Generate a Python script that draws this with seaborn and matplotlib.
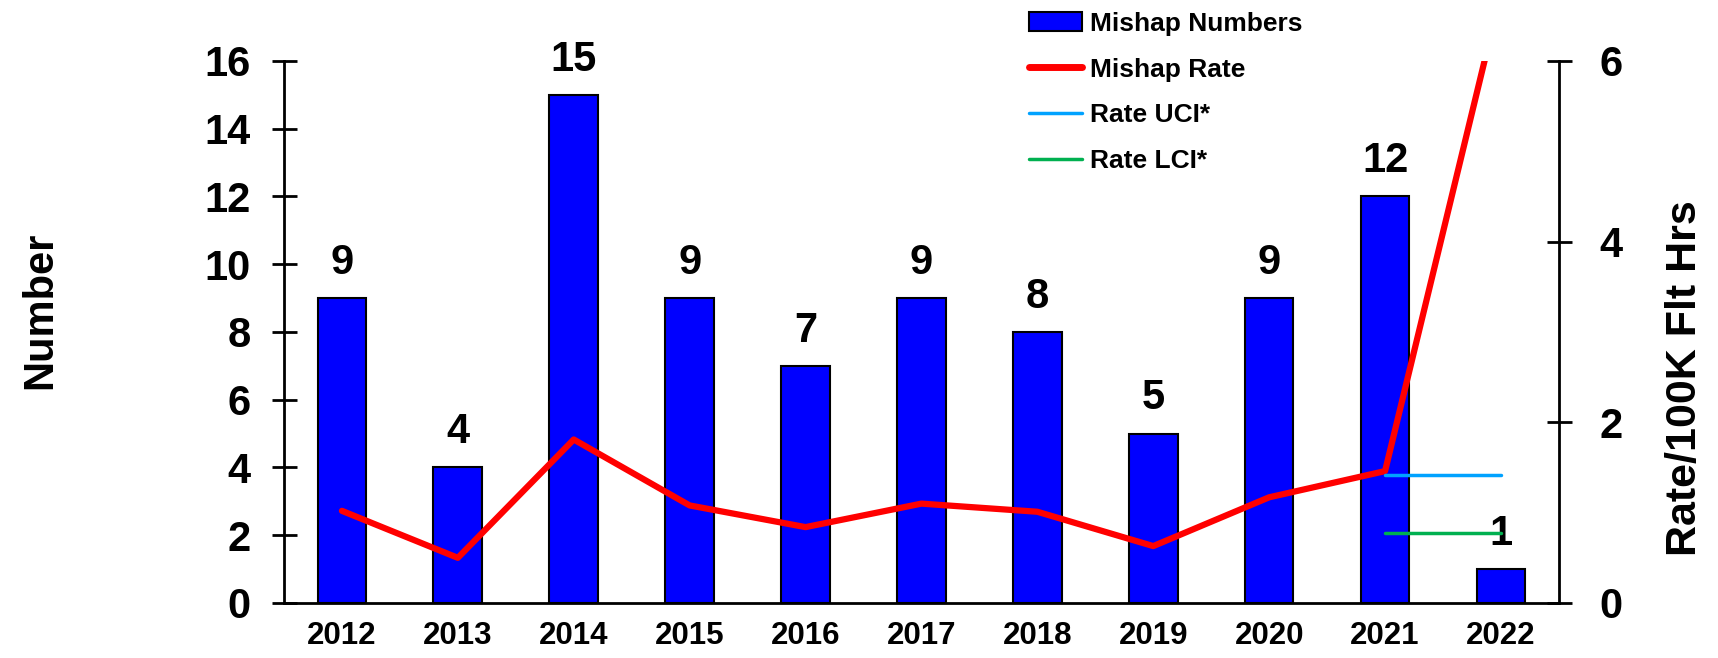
import numpy as np
import pandas as pd
import matplotlib
matplotlib.use("Agg")
import matplotlib.pyplot as plt
from matplotlib.patches import Patch
from matplotlib.lines import Line2D
import seaborn as sns

years = ['2012', '2013', '2014', '2015', '2016', '2017', '2018', '2019', '2020', '2021', '2022']
mishap_numbers = [9, 4, 15, 9, 7, 9, 8, 5, 9, 12, 1]
mishap_rate = [1.02, 0.50, 1.81, 1.08, 0.84, 1.10, 1.01, 0.63, 1.17, 1.46, 6.75]
uci_years = ['2021', '2022']
rate_uci = [1.42, 1.42]
rate_lci = [0.77, 0.77]

sns.set_style('white')
plt.rcParams['font.family'] = ['Liberation Sans', 'DejaVu Sans']
plt.rcParams['font.weight'] = 'bold'
plt.rcParams['text.color'] = 'black'
plt.rcParams['axes.labelcolor'] = 'black'
plt.rcParams['xtick.color'] = 'black'
plt.rcParams['ytick.color'] = 'black'

df = pd.DataFrame({'year': years, 'n': mishap_numbers, 'rate': mishap_rate})
df['pos'] = np.arange(len(years))
ci = pd.DataFrame({'pos': [years.index(y) for y in uci_years], 'uci': rate_uci, 'lci': rate_lci})

fig = plt.figure(figsize=(17.18, 6.58), dpi=100)
ax = fig.add_axes([0.1653, 0.0836, 0.7421, 0.8237])

sns.barplot(data=df, x='year', y='n', ax=ax, color='#0000FF', saturation=1,
            width=0.42, edgecolor='black', linewidth=1.5)
for p, v in zip(df['pos'], df['n']):
    ax.text(p, v + 0.45, str(v), ha='center', va='bottom', fontsize=30, fontweight='bold')

ax.set_ylim(0, 16)
ax.set_xlim(-0.5, len(years) - 0.5)
ax.set_yticks(range(0, 17, 2))
ax.set_xlabel('')
ax.set_ylabel('Number', fontsize=30, fontweight='bold', labelpad=104)
ax.yaxis.label.set_y(0.54)
ax.set_xticks(np.arange(len(years)))
ax.set_xticklabels(years, fontsize=22.5, fontweight='bold')
ax.tick_params(axis='x', length=0, pad=13)
ax.set_xticks(np.arange(len(years) + 1) - 0.5, minor=True)
ax.tick_params(axis='x', which='minor', direction='inout', length=15, width=2)
ax.tick_params(axis='y', direction='inout', length=18, width=2, labelsize=30, pad=15)
for t in ax.get_yticklabels():
    t.set_fontweight('bold')
for s in ['left', 'bottom']:
    ax.spines[s].set_linewidth(2)
    ax.spines[s].set_color('black')
ax.spines['top'].set_visible(False)
ax.spines['right'].set_visible(False)

ax2 = ax.twinx()
sns.lineplot(data=df, x='pos', y='rate', ax=ax2, color='#FF0000', linewidth=4.5)
sns.lineplot(data=ci, x='pos', y='uci', ax=ax2, color='#00A2FF', linewidth=2.5)
sns.lineplot(data=ci, x='pos', y='lci', ax=ax2, color='#00B050', linewidth=2.5)
ax2.set_ylim(0, 6)
ax2.set_xlim(-0.5, len(years) - 0.5)
ax2.set_yticks([0, 2, 4, 6])
ax2.set_xlabel('')
ax2.set_ylabel('Rate/100K Flt Hrs', fontsize=31, fontweight='bold', labelpad=31)
ax2.yaxis.label.set_y(0.415)
ax2.tick_params(axis='y', direction='inout', length=18, width=2, labelsize=30, pad=20)
for t in ax2.get_yticklabels():
    t.set_fontweight('bold')
ax2.spines['right'].set_linewidth(2)
ax2.spines['right'].set_color('black')
for s in ['top', 'left', 'bottom']:
    ax2.spines[s].set_visible(False)

handles = [Patch(facecolor='#0000FF', edgecolor='black', linewidth=1.5),
           Line2D([], [], color='#FF0000', linewidth=5),
           Line2D([], [], color='#00A2FF', linewidth=2.5),
           Line2D([], [], color='#00B050', linewidth=2.5)]
labels = ['Mishap Numbers', 'Mishap Rate', 'Rate UCI*', 'Rate LCI*']
fig.legend(handles, labels, loc='upper left', bbox_to_anchor=(0.592, 1.0), frameon=False,
           prop={'size': 19, 'weight': 'bold'}, labelspacing=0.82, handlelength=2.0,
           handletextpad=0.3, borderaxespad=0.05)

fig.savefig('out.png', dpi=100)
